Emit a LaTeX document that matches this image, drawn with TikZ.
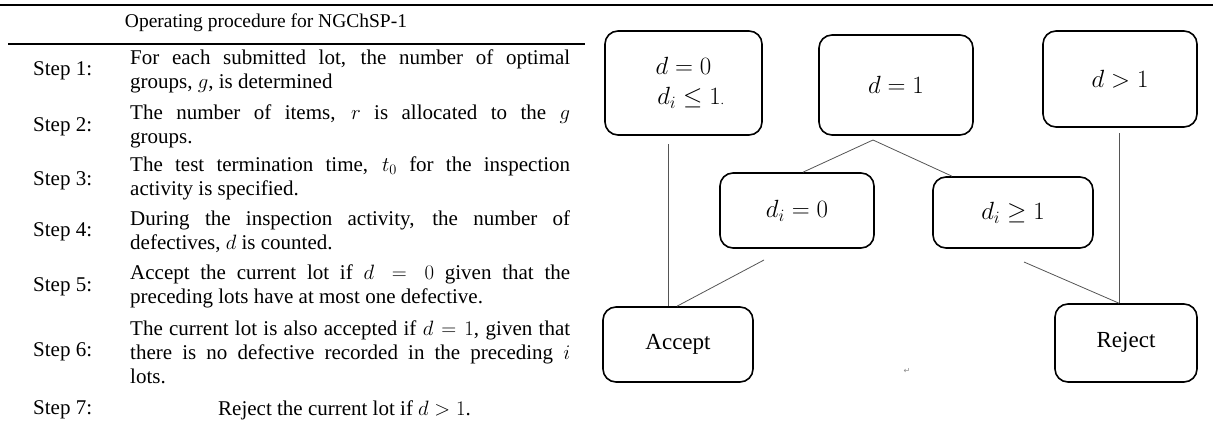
\documentclass[tikz,border=0pt]{standalone}
\usepackage{amsmath}
\usepackage{amssymb}
\usepackage{fontspec}
\setmainfont{Liberation Serif}
\newfontfamily\symfont{DejaVu Sans}
\usetikzlibrary{positioning, calc}
\definecolor{LinkGray}{HTML}{555555}
\definecolor{MarkGray}{HTML}{8A8A8A}
\hyphenpenalty=10000
\begin{document}
\begin{tikzpicture}[x=1pt, y=-1pt,
            rule/.style={line width=2pt},
            steplabel/.style={anchor=west, inner sep=0pt, font=\fontsize{21}{24}\selectfont},
            steptext/.style={anchor=west, inner sep=0pt, text width=440pt, align=justify, font=\fontsize{21}{24}\selectfont},
            box/.style={rectangle, draw, line width=1.6pt, rounded corners=13pt, align=center, inner sep=0pt, font=\fontsize{23}{28}\selectfont},
            link/.style={draw=LinkGray, line width=0.8pt}
        ]
            \useasboundingbox (0,0) rectangle (1213,428);
            \draw[rule] (0,5) -- (1213,5);
            \draw[rule] (8,44) -- (585,44);
            \node[inner sep=0pt, font=\fontsize{19.5}{22}\selectfont] (title) at (266,23) {Operating procedure for NGChSP-1};

            \node[steplabel] (s1) at (33,71) {Step 1:};
            \node[steplabel] (s2) at (33,127) {Step 2:};
            \node[steplabel] (s3) at (33,181) {Step 3:};
            \node[steplabel] (s4) at (33,232) {Step 4:};
            \node[steplabel] (s5) at (33,287) {Step 5:};
            \node[steplabel] (s6) at (33,352) {Step 6:};
            \node[steplabel] (s7) at (33,410) {Step 7:};

            \node[steptext] (t1) at (130,71) {For each submitted lot, the number of optimal\linebreak groups, $g$, is determined};
            \node[steptext] (t2) at (130,126) {The number of items, $r$ is allocated to the $g$\linebreak groups.};
            \node[steptext] (t3) at (130,178) {The test termination time, $t_0$ for the inspection\linebreak activity is specified.};
            \node[steptext] (t4) at (130,232) {During the inspection activity, the number of\linebreak defectives, $d$ is counted.};
            \node[steptext] (t5) at (130,286) {Accept the current lot if $d=0$ given that the\linebreak preceding lots have at most one defective.};
            \node[steptext] (t6) at (130,352) {The current lot is also accepted if $d=1$, given that\linebreak there is no defective recorded in the preceding $i$\linebreak lots.};
            \node[steplabel] (t7) at (218,410) {Reject the current lot if $d>1$.};

            \node[box, minimum width=157pt, minimum height=104pt] (dzero) at (683.5,83) {$d=0$\\[2pt]$\;\,d_i\le 1$\makebox[0pt][l]{\fontsize{12}{12}\selectfont.}};
            \node[box, minimum width=154pt, minimum height=100pt] (done) at (896,85) {$d=1$};
            \node[box, minimum width=154pt, minimum height=96pt] (dmore) at (1120,79) {$d>1$};
            \node[box, minimum width=154pt, minimum height=75pt] (dizero) at (797,210.5) {$d_i=0$};
            \node[box, minimum width=160pt, minimum height=71pt] (dione) at (1013,212.5) {$d_i\ge 1$};
            \node[box, minimum width=150pt, minimum height=75pt] (accept) at (678,344.5) {\raisebox{5pt}{Accept}};
            \node[box, minimum width=142pt, minimum height=78pt] (reject) at (1126,343) {\raisebox{7pt}{Reject}};

            \coordinate (zeroout) at (668,144);
            \coordinate (split) at (873,140);
            \coordinate (moreout) at (1119,133);
            \coordinate (izeroout) at (764,260);
            \coordinate (ioneout) at (1024,262);

            \draw[link] (zeroout) -- (zeroout |- accept.north);
            \draw[link] (split) -- ($(dizero.north)+(6,0)$);
            \draw[link] (split) -- ($(dione.north)+(-61,0)$);
            \draw[link] (moreout) -- (moreout |- reject.north);
            \draw[link] (izeroout) -- ($(accept.north)+(-1,0)$);
            \draw[link] (ioneout) -- ($(reject.north)+(-7,0)$);

            \node[text=MarkGray, inner sep=0pt, font=\symfont\fontsize{8}{8}\selectfont] (mark) at (907,371) {↵};
        \end{tikzpicture}
\end{document}
